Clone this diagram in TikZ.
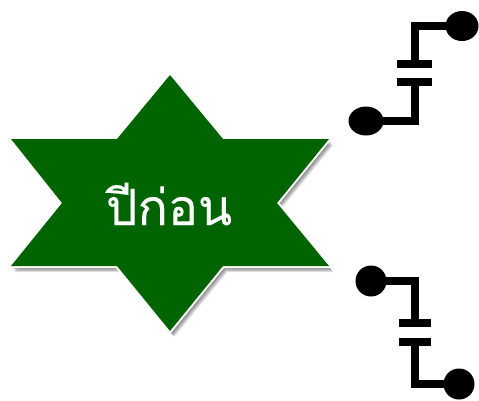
\documentclass[tikz,border=0pt]{standalone}
\usepackage{fontspec}
\usetikzlibrary{shapes.geometric}
\newfontfamily\thaifont[Script=Thai,FakeBold=0.15]{Loma}
\definecolor{stargreen}{RGB}{0,100,0}
\tikzset{
  ball/.style={ellipse,fill=black,inner sep=0pt,minimum width=31pt,minimum height=31pt},
  plate/.style={rectangle,fill=black,inner sep=0pt,minimum width=33pt,minimum height=8pt},
  wire/.style={line width=8pt,black}
}
\begin{document}
\begin{tikzpicture}[x=1pt,y=-1pt]
\useasboundingbox (0,0) rectangle (479,400);
\def\starpath{(170,75) -- (223,139) -- (329,139) -- (277,203) -- (329,266) -- (223,266) -- (170,331) -- (117,266) -- (11,266) -- (62,203) -- (11,139) -- (117,139) -- cycle}
% soft shadow
\foreach \d in {1,2,3,4,5,6}{
\fill[black,opacity=0.12] [xshift=\d*0.7pt,yshift=-\d*1pt] \starpath;}
\draw[white,line width=4pt,line join=miter] \starpath;
\fill[stargreen] \starpath;
\node[text=white,font=\thaifont\fontsize{50}{50}\selectfont] (label) at (169,204) {ปีก่อน};
% upper capacitor
\node[ball,minimum width=33pt,minimum height=30pt] (ballA) at (462,26) {};
\node[plate,minimum width=35pt] (plateA) at (414.5,64) {};
\node[plate,minimum width=35pt] (plateB) at (414.5,82) {};
\node[ball,minimum width=35pt,minimum height=29pt] (ballB) at (366,121) {};
\draw[wire] (ballA.center) -| (plateA.center);
\draw[wire] (ballB.center) -| (plateB.center);
% lower capacitor
\node[ball] (ballC) at (371,281) {};
\node[plate,minimum width=32pt] (plateC) at (415,323) {};
\node[plate,minimum width=32pt] (plateD) at (415,342) {};
\node[ball] (ballD) at (459,384) {};
\draw[wire] (ballC.center) -| (plateC.center);
\draw[wire] (ballD.center) -| (plateD.center);
\end{tikzpicture}
\end{document}
